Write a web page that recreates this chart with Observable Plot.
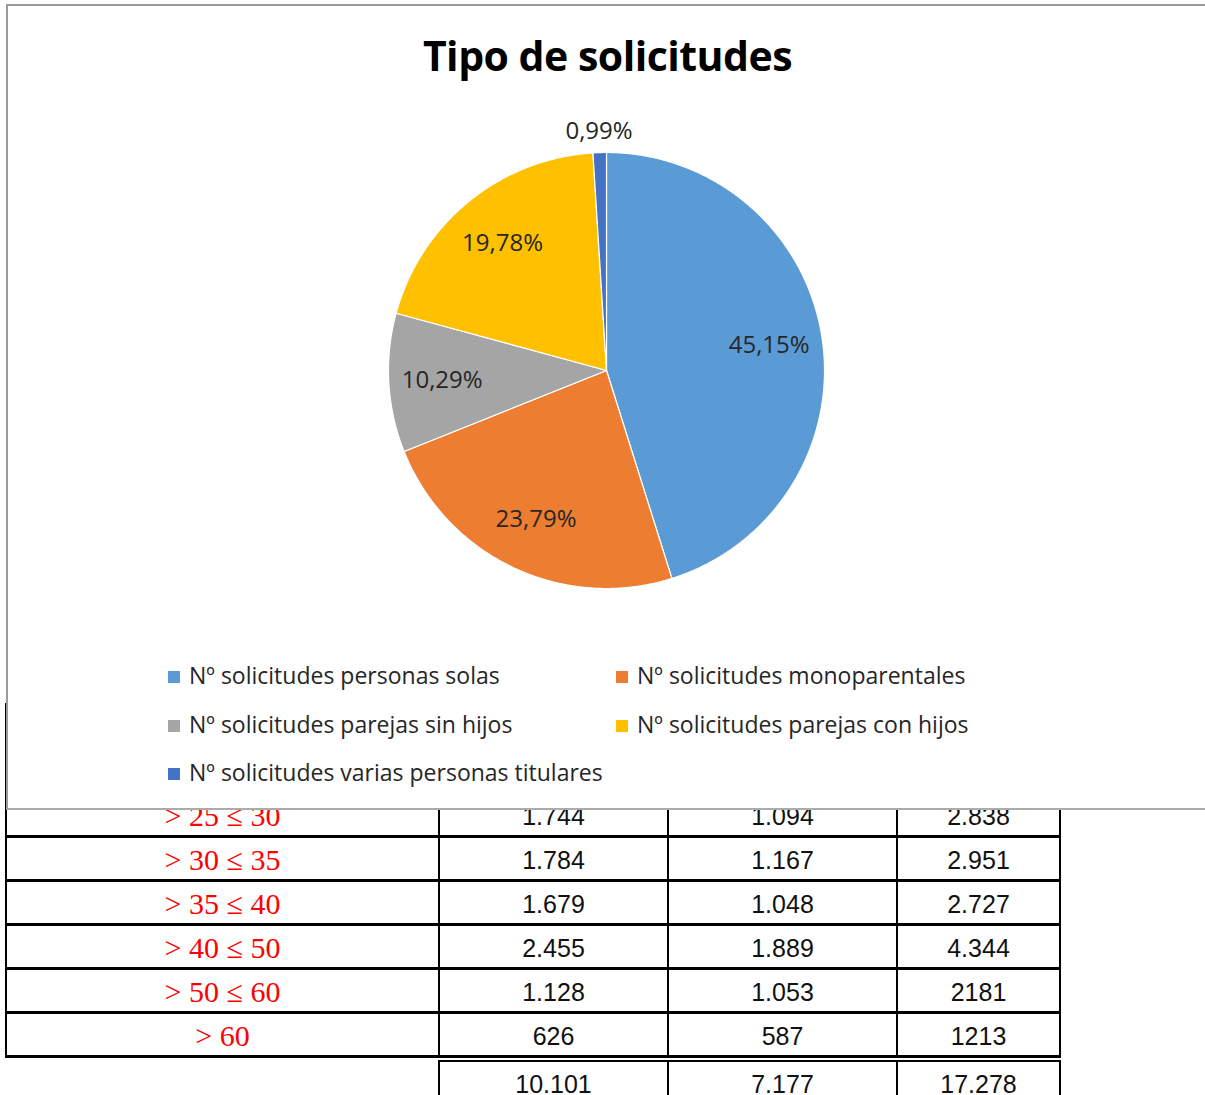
<!DOCTYPE html>
<html>
<head>
<meta charset="utf-8">
<script src="https://cdn.jsdelivr.net/npm/d3@7"></script>
<script src="https://cdn.jsdelivr.net/npm/@observablehq/plot@0.6"></script>
<style>
  html, body { margin: 0; padding: 0; background: #fff; }
  body { position: relative; width: 1205px; height: 1095px; overflow: hidden; }
  #tabla { position: absolute; left: 5px; top: 703px; border-collapse: collapse; z-index: 0; table-layout: fixed; }
  #tabla td { border-left: 2px solid #000; border-right: 2px solid #000; border-top: 3px solid #000; border-bottom: 3px solid #000;
              height: 38px; padding: 3px 0 0 0; text-align: center; font-family: "Liberation Sans", Arial, sans-serif; font-size: 25px; color: #111; }
  #tabla td.tramo { font-family: "Liberation Serif", "Times New Roman", serif; font-size: 30px; color: #ff0000; }
  #tabla tr.spacer td { border-top: none; height: 88px; padding: 0; }
  #totales { position: absolute; left: 438px; top: 1060px; border-collapse: collapse; table-layout: fixed; z-index: 0; }
  #totales td { border: 2px solid #000; height: 42px; padding: 0; text-align: center; font-family: "Liberation Sans", Arial, sans-serif; font-size: 25px; color: #111; padding-top: 1px; }
  #caja { position: absolute; left: 6px; top: 4px; width: 1300px; height: 802px; border-top: 2px solid #9a9a9a; border-left: 2px solid #9a9a9a; border-bottom: 2px solid #ababab; background: #fff; z-index: 1; }
  #titulo { position: absolute; left: 0; top: 21px; width: 1199px; text-align: center; font-family: "Open Sans", sans-serif; font-weight: 700; font-size: 41px; color: #000; letter-spacing: -0.5px; }
  #grafico { position: absolute; left: -8px; top: 104px; }
  .leyenda { position: absolute; font-family: "Open Sans", sans-serif; font-size: 23px; color: #262626; white-space: nowrap; }
  .leyenda .sw { display: inline-block; width: 12px; height: 12px; margin-right: 9px; vertical-align: 1px; }
</style>
</head>
<body>
<table id="tabla"></table>
<table id="totales"></table>
<div id="caja">
  <div id="titulo">Tipo de solicitudes</div>
  <div id="grafico"></div>
</div>
<script>
// ---- Pie data ----
const tipos = [
  "Nº solicitudes personas solas",
  "Nº solicitudes monoparentales",
  "Nº solicitudes parejas sin hijos",
  "Nº solicitudes parejas con hijos",
  "Nº solicitudes varias personas titulares"
];
const porcentajes = [45.15, 23.79, 10.29, 19.78, 0.99];
const colores = ["#5B9BD5", "#ED7D31", "#A5A5A5", "#FFC000", "#4472C4"];

// ---- Table data ----
const tramos = ["> 25 ≤ 30", "> 30 ≤ 35", "> 35 ≤ 40", "> 40 ≤ 50", "> 50 ≤ 60", "> 60"];
const columna1 = ["1.744", "1.784", "1.679", "2.455", "1.128", "626"];
const columna2 = ["1.094", "1.167", "1.048", "1.889", "1.053", "587"];
const columna3 = ["2.838", "2.951", "2.727", "4.344", "2181", "1213"];
const totales = ["10.101", "7.177", "17.278"];

// ---- Table ----
const widths = [433, 229, 229, 163];
const tabla = d3.select("#tabla");
const cg = tabla.append("colgroup");
widths.forEach(w => cg.append("col").style("width", w + "px"));
const sp = tabla.append("tr").attr("class", "spacer");
widths.forEach(() => sp.append("td"));
tramos.forEach((t, i) => {
  const tr = tabla.append("tr");
  tr.append("td").attr("class", "tramo").text(t);
  tr.append("td").text(columna1[i]);
  tr.append("td").text(columna2[i]);
  tr.append("td").text(columna3[i]);
});
const tot = d3.select("#totales");
const cg2 = tot.append("colgroup");
widths.slice(1).forEach(w => cg2.append("col").style("width", w + "px"));
const trt = tot.append("tr");
totales.forEach(v => trt.append("td").text(v));

// ---- Pie ----
const R = 218;            // radius in px
const W = 1220, H = 520;  // svg size
const cx = 606, cy = 260; // centre inside svg (px)
const arcs = d3.pie().sort(null).value(d => d.v)(porcentajes.map((v, i) => ({v, i})));
const slices = arcs.map(a => {
  const pts = [{x: 0, y: 0}];
  const n = Math.max(4, Math.ceil((a.endAngle - a.startAngle) / 0.005));
  for (let k = 0; k <= n; k++) {
    const ang = a.startAngle + (a.endAngle - a.startAngle) * k / n;
    pts.push({x: Math.sin(ang), y: Math.cos(ang)});
  }
  pts.push({x: 0, y: 0});
  return {i: a.data.i, pts};
});
const fmt = v => v.toFixed(2).replace(".", ",") + "%";
const labels = arcs.map(a => {
  const mid = (a.startAngle + a.endAngle) / 2;
  const r = a.data.v < 5 ? 1.10 : 0.755;
  return {x: r * Math.sin(mid), y: r * Math.cos(mid), t: fmt(a.data.v)};
});

const plot = Plot.plot({
  width: W, height: H,
  margin: 0,
  x: {domain: [-cx / R, (W - cx) / R], axis: null},
  y: {domain: [-(H - cy) / R, cy / R], axis: null},
  style: {fontFamily: "Open Sans, sans-serif", background: "transparent"},
  marks: [
    ...slices.map(s => Plot.line(s.pts, {x: "x", y: "y", fill: colores[s.i], stroke: "#fff", strokeWidth: 1.2, curve: "linear"})),
    Plot.text(labels, {x: "x", y: "y", text: "t", fontSize: 24, fill: "#262626"})
  ]
});
document.getElementById("grafico").appendChild(plot);

// ---- Legend ----
const caja = d3.select("#caja");
const legendPos = [[160, 653], [608, 653], [160, 702], [608, 702], [160, 750]];
tipos.forEach((t, i) => {
  const d = caja.append("div").attr("class", "leyenda")
    .style("left", legendPos[i][0] + "px").style("top", legendPos[i][1] + "px");
  d.append("span").attr("class", "sw").style("background", colores[i]);
  d.append("span").text(t);
});
</script>
</body>
</html>
